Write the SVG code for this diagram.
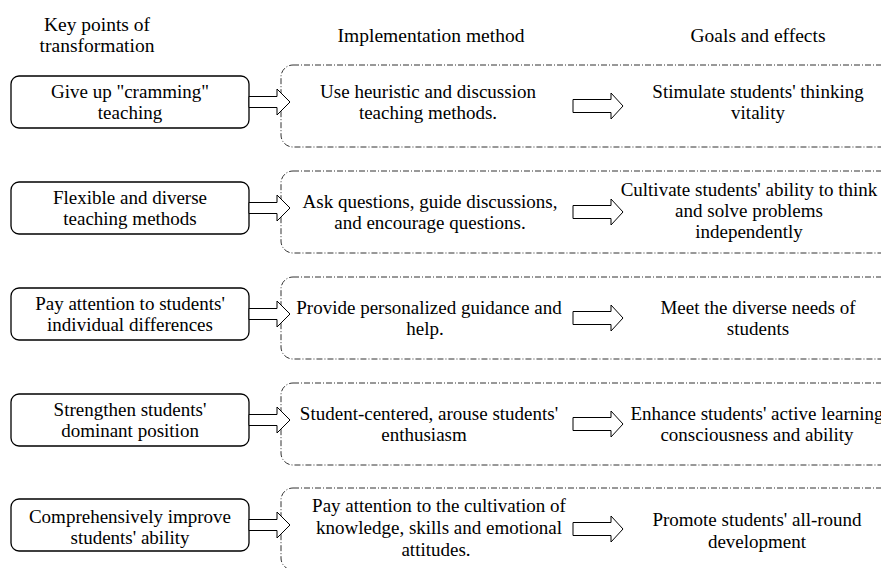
<svg xmlns="http://www.w3.org/2000/svg" xmlns:xlink="http://www.w3.org/1999/xlink" width="881" height="568" viewBox="0 0 881 568" font-family="'Liberation Serif', 'DejaVu Serif', serif">
<defs>
<style>
text{font-family:'Liberation Serif','Times New Roman','DejaVu Serif',serif;font-size:19px;fill:#000;text-anchor:middle}
.hdr{font-size:19.5px}
.key{fill:#fff;stroke:#000;stroke-width:1.3}
.grp{fill:none;stroke:#333;stroke-width:1;stroke-dasharray:6 2 1 2}
.arr{fill:#fff;stroke:#000;stroke-width:1}
</style>
<path id="arrL" d="M0,-5.5 H28 V-13 L41,0 L28,13 V5.5 H0 Z"/>
<path id="arrM" d="M0,-6.5 H38 V-13 L50,0 L38,13 V6.5 H0 Z"/>
</defs>
<rect width="881" height="568" fill="#fff"/>
<g id="headers">
<text class="hdr" x="97" y="31">Key points of</text>
<text class="hdr" x="97" y="52">transformation</text>
<text class="hdr" x="431" y="42">Implementation method</text>
<text class="hdr" x="758" y="42">Goals and effects</text>
</g>
<g id="key1"><rect class="key" x="11" y="76" width="238" height="52" rx="8"/>
<text x="130" y="98">Give up "cramming"</text><text x="130" y="119">teaching</text></g>
<g id="method1"><rect class="grp" x="281" y="65" width="640" height="82" rx="12"/>
<text x="428" y="98">Use heuristic and discussion</text><text x="428" y="119">teaching methods.</text></g>
<g id="goal1"><text x="758" y="98">Stimulate students' thinking</text><text x="758" y="119">vitality</text></g>
<g id="key2"><rect class="key" x="11" y="182" width="238" height="52" rx="8"/>
<text x="130" y="204">Flexible and diverse</text><text x="130" y="225">teaching methods</text></g>
<g id="method2"><rect class="grp" x="281" y="171" width="640" height="82" rx="12"/>
<text x="430" y="208">Ask questions, guide discussions,</text><text x="430" y="229">and encourage questions.</text></g>
<g id="goal2"><text x="749" y="196">Cultivate students' ability to think</text><text x="749" y="217">and solve problems</text><text x="749" y="238">independently</text></g>
<g id="key3"><rect class="key" x="11" y="288" width="238" height="52" rx="8"/>
<text x="130" y="310">Pay attention to students'</text><text x="130" y="331">individual differences</text></g>
<g id="method3"><rect class="grp" x="281" y="277" width="640" height="82" rx="12"/>
<text x="429" y="314">Provide personalized guidance and</text><text x="425" y="335">help.</text></g>
<g id="goal3"><text x="758" y="314">Meet the diverse needs of</text><text x="758" y="335">students</text></g>
<g id="key4"><rect class="key" x="11" y="394" width="238" height="52" rx="8"/>
<text x="130" y="416">Strengthen students'</text><text x="130" y="437">dominant position</text></g>
<g id="method4"><rect class="grp" x="281" y="383" width="640" height="82" rx="12"/>
<text x="429" y="420">Student-centered, arouse students'</text><text x="424" y="441">enthusiasm</text></g>
<g id="goal4"><text x="757" y="420">Enhance students' active learning</text><text x="757" y="441">consciousness and ability</text></g>
<g id="key5"><rect class="key" x="11" y="499" width="238" height="52" rx="8"/>
<text x="130" y="523">Comprehensively improve</text><text x="130" y="544">students' ability</text></g>
<g id="method5"><rect class="grp" x="281" y="488" width="640" height="82" rx="12"/>
<text x="439" y="512">Pay attention to the cultivation of</text><text x="439" y="534">knowledge, skills and emotional</text><text x="436" y="556">attitudes.</text></g>
<g id="goal5"><text x="757" y="526">Promote students' all-round</text><text x="757" y="548">development</text></g>
<g id="connectors">
<use xlink:href="#arrL" class="arr" x="249" y="102"/>
<use xlink:href="#arrM" class="arr" x="573" y="106"/>
<use xlink:href="#arrL" class="arr" x="249" y="208"/>
<use xlink:href="#arrM" class="arr" x="573" y="212"/>
<use xlink:href="#arrL" class="arr" x="249" y="314"/>
<use xlink:href="#arrM" class="arr" x="573" y="318"/>
<use xlink:href="#arrL" class="arr" x="249" y="420"/>
<use xlink:href="#arrM" class="arr" x="573" y="424"/>
<use xlink:href="#arrL" class="arr" x="249" y="525"/>
<use xlink:href="#arrM" class="arr" x="573" y="529"/>
</g>
</svg>
